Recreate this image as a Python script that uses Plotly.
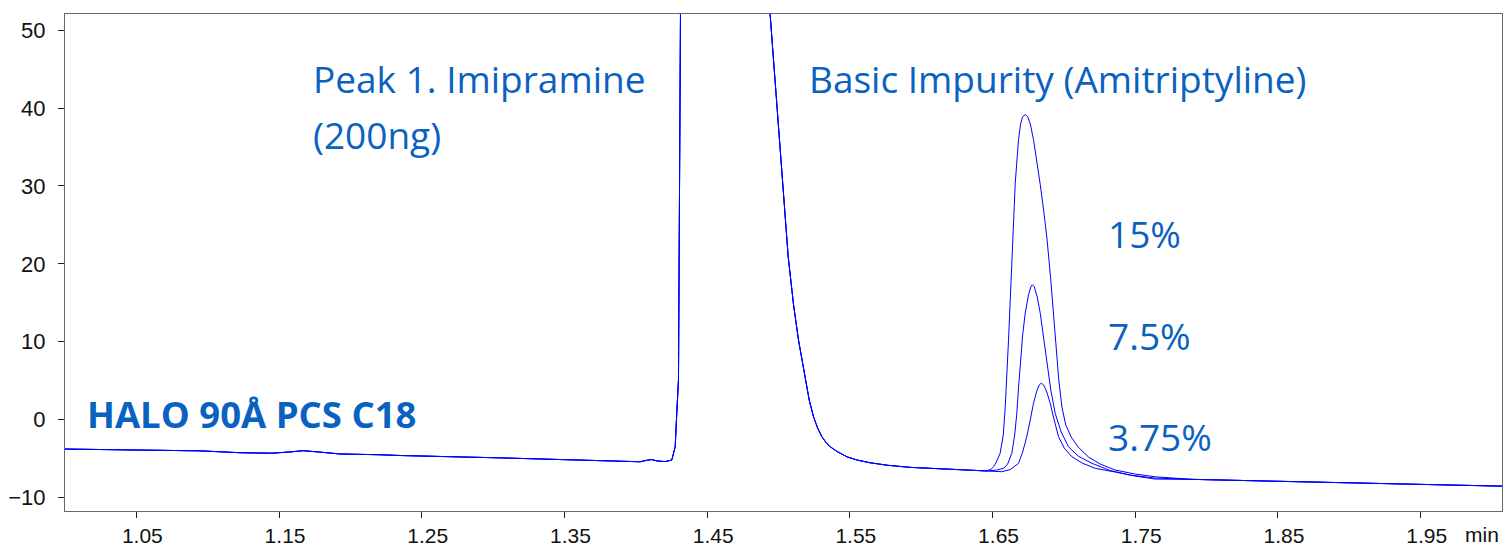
import plotly.graph_objects as go

# ---- data (time in min, signal in mAU) ----
pre_t = [1.000, 1.050, 1.0946, 1.1227, 1.145, 1.157, 1.167, 1.178, 1.1928, 1.2208, 1.235,
         1.305, 1.375, 1.403, 1.408, 1.411, 1.415, 1.4205, 1.4252, 1.4276, 1.4287, 1.4299,
         1.4313, 1.4318, 1.440, 1.460, 1.480, 1.488, 1.4941, 1.5000, 1.5050, 1.5068, 1.5085,
         1.5105, 1.514, 1.5187, 1.5215, 1.5245, 1.5274, 1.5304, 1.5333, 1.5362, 1.5411, 1.5479,
         1.5551, 1.5642, 1.5768, 1.5923, 1.6273, 1.646]
pre_v = [-3.77, -3.85, -4.0, -4.24, -4.3, -4.15, -3.98, -4.15, -4.4, -4.5, -4.6,
         -4.9, -5.3, -5.4, -5.2, -5.12, -5.3, -5.38, -5.18, -3.47, 0.82, 5.1,
         52.0, 70.0, 250.0, 400.0, 250.0, 67.6, 52.1, 37.0, 24.5, 20.9, 18.1,
         14.8, 10.25, 5.1, 2.53, 0.39, -1.07, -2.18, -2.93, -3.47, -4.09, -4.76,
         -5.18, -5.53, -5.86, -6.12, -6.47, -6.58]

imp15_t = [1.6490, 1.6507, 1.6526, 1.6553, 1.6575, 1.6589, 1.6612, 1.6625, 1.6639, 1.6659,
           1.6682, 1.6697, 1.6711, 1.6729, 1.6746, 1.6764, 1.6787, 1.6810, 1.6834, 1.6858,
           1.6881, 1.6908, 1.6931, 1.6945, 1.6964, 1.6986, 1.7013, 1.7051, 1.7100, 1.7172,
           1.7254, 1.7359, 1.7500, 1.7640]
imp15_v = [-6.34, -6.04, -5.44, -4.32, -1.97, 1.67, 10.24, 16.29, 23.1, 30.4,
           35.95, 38.0, 38.9, 39.16, 38.9, 38.0, 35.95, 33.4, 30.2, 26.9,
           23.3, 17.95, 12.81, 9.34, 5.1, 1.63, -0.68, -2.23, -3.51, -4.79,
           -5.69, -6.46, -6.98, -7.33]

imp75_t = [1.6526, 1.6577, 1.6606, 1.6635, 1.6655, 1.6670, 1.6682, 1.6694, 1.6711, 1.6729,
           1.6752, 1.6771, 1.6780, 1.6792, 1.6813, 1.6834, 1.6858, 1.6881, 1.6908, 1.6939,
           1.6981, 1.7032, 1.7100, 1.7196, 1.7325, 1.7465, 1.7640]
imp75_v = [-6.47, -6.25, -5.69, -4.32, -1.97, 0.82, 4.07, 7.25, 10.89, 13.68,
           16.03, 17.18, 17.31, 17.06, 15.77, 13.68, 10.63, 7.25, 3.82, 0.82,
           -1.58, -3.47, -4.67, -5.6, -6.53, -7.11, -7.5]

imp375_t = [1.6526, 1.6565, 1.6624, 1.6682, 1.6711, 1.6740, 1.6764, 1.6787, 1.6810, 1.6827,
            1.6841, 1.6858, 1.6880, 1.6904, 1.6932, 1.6962, 1.7002, 1.7056, 1.7128, 1.7220,
            1.7360, 1.7500, 1.7640]
imp375_v = [-6.66, -6.68, -6.4, -5.6, -4.15, -2.18, -0.04, 2.11, 3.69, 4.46,
            4.68, 4.46, 3.56, 2.11, -0.04, -2.18, -3.64, -4.76, -5.57, -6.25,
            -6.72, -7.24, -7.62]

post_t = [1.790, 1.8656, 1.950, 2.007]
post_v = [-7.66, -7.97, -8.3, -8.53]

series = [("15%", imp15_t, imp15_v), ("7.5%", imp75_t, imp75_v), ("3.75%", imp375_t, imp375_v)]

x_ticks = [1.05, 1.15, 1.25, 1.35, 1.45, 1.55, 1.65, 1.75, 1.85, 1.95]
x_tick_text = ["1.05", "1.15", "1.25", "1.35", "1.45", "1.55", "1.65", "1.75", "1.85", "1.95"]
y_ticks = [-10, 0, 10, 20, 30, 40, 50]

fig = go.Figure()
for name, t, v in series:
    fig.add_trace(go.Scatter(x=pre_t + t + post_t, y=pre_v + v + post_v, mode="lines",
                             name=name, line=dict(color="#0000FF", width=1),
                             showlegend=False, hoverinfo="skip"))

W, H = 1506, 547
L, R, T, B = 65, 4, 14, 36
pw, ph = W - L - R, H - T - B


def px(x):
    return (x - L) / pw


def py(y):
    return (H - B - y) / ph


blue = "#0A62C0"
tfont = dict(family="Open Sans", size=37, color=blue)
ann = [
    dict(text="Peak 1. Imipramine", x=px(311), y=py(79)),
    dict(text="(200ng)", x=px(311), y=py(134)),
    dict(text="Basic Impurity (Amitriptyline)", x=px(807), y=py(79)),
    dict(text="15%", x=px(1106), y=py(233)),
    dict(text="7.5%", x=px(1106), y=py(335)),
    dict(text="3.75%", x=px(1106), y=py(436)),
]
annotations = []
for a in ann:
    annotations.append(dict(text=a["text"], x=a["x"], y=a["y"], xref="paper", yref="paper",
                            xanchor="left", yanchor="middle", showarrow=False, font=tfont))
annotations.append(dict(text="<b>HALO 90Å PCS C18</b>", x=px(85), y=py(414), xref="paper",
                        yref="paper", xanchor="left", yanchor="middle", showarrow=False,
                        font=dict(family="Open Sans", size=36.5, color=blue)))
annotations.append(dict(text="min", x=px(1482), y=py(534), xref="paper",
                        yref="paper", xanchor="center", yanchor="middle", showarrow=False,
                        font=dict(family="Liberation Sans", size=21, color="#111")))

fig.update_layout(
    width=W, height=H,
    margin=dict(l=L, r=R, t=T, b=B, pad=0, autoexpand=False),
    paper_bgcolor="white", plot_bgcolor="white",
    annotations=annotations,
    xaxis=dict(range=[1.0, 2.007], tickmode="array", tickvals=x_ticks, ticktext=x_tick_text,
               ticks="outside", ticklen=6, tickcolor="#222", tickwidth=1,
               ticklabelshift=6, ticklabelstandoff=0, automargin=False,
               showline=True, mirror=True, linecolor="#666", linewidth=1,
               showgrid=False, zeroline=False,
               tickfont=dict(family="Liberation Sans", size=21, color="#111")),
    yaxis=dict(range=[-11.72, 52.07], tickmode="array", tickvals=y_ticks,
               ticks="outside", ticklen=6, tickcolor="#222", tickwidth=1,
               ticklabelstandoff=8, automargin=False,
               showline=True, mirror=True, linecolor="#666", linewidth=1,
               showgrid=False, zeroline=False,
               tickfont=dict(family="Liberation Sans", size=22, color="#111")),
)

fig.write_html("out.html")
